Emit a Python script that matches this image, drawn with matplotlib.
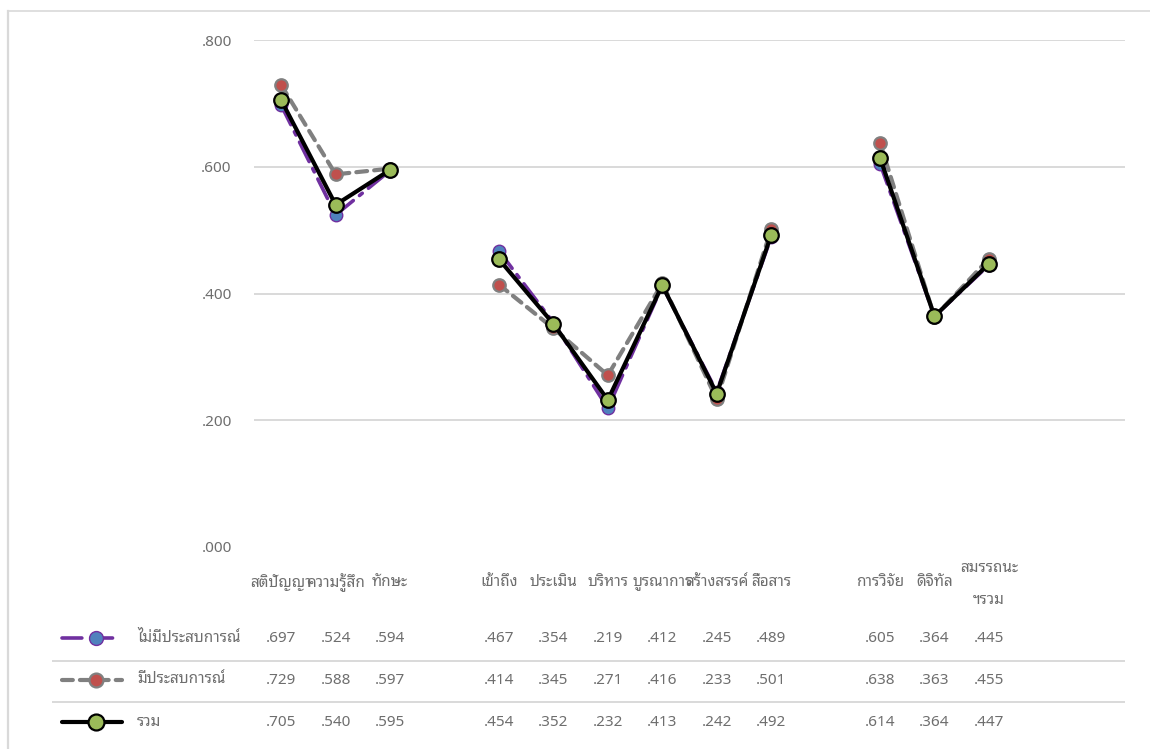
import numpy as np
import matplotlib
matplotlib.use("Agg")
import matplotlib.pyplot as plt
from matplotlib import transforms
from matplotlib.lines import Line2D
from matplotlib.ticker import FuncFormatter

plt.rcParams["font.family"] = ["Noto Sans Thai Looped", "DejaVu Sans"]

# ---- data -------------------------------------------------------------
categories = ["สติปัญญา", "ความรู้สึก", "ทักษะ", "",
              "เข้าถึง", "ประเมิน", "บริหาร", "บูรณาการ", "สร้างสรรค์", "สื่อสาร", "",
              "การวิจัย", "ดิจิทัล", "สมรรถนะ\nฯรวม", "", ""]

series_names = ["ไม่มีประสบการณ์", "มีประสบการณ์", "รวม"]

no_experience = [.697, .524, .594, None,
                 .467, .354, .219, .412, .245, .489, None,
                 .605, .364, .445, None, None]
experienced = [.729, .588, .597, None,
               .414, .345, .271, .416, .233, .501, None,
               .638, .363, .455, None, None]
overall = [.705, .540, .595, None,
           .454, .352, .232, .413, .242, .492, None,
           .614, .364, .447, None, None]

y_ticks = [0.0, 0.2, 0.4, 0.6, 0.8]

# ---- styles -----------------------------------------------------------
TEXT = "#6e6e6e"
GRID = "#d9d9d9"
FS = 11
styles = [
    dict(color="#7030A0", lw=2.6, dashes=(6, 2.2, 1, 2.2),
         mfc="#4F81BD", mec="#7030A0", ms=9, mew=1.0),
    dict(color="#808080", lw=3.0, dashes=(2.6, 1.7),
         mfc="#C0504D", mec="#808080", ms=9, mew=1.6),
    dict(color="#000000", lw=3.0, dashes=None,
         mfc="#9BBB59", mec="#000000", ms=10.5, mew=1.6),
]

W, H = 1150, 749
fig = plt.figure(figsize=(W / 100, H / 100), dpi=100)


def fx(px):
    return px / W


def fy(py):
    return 1 - py / H


ax = fig.add_axes([fx(254), fy(547), fx(1125) - fx(254), fy(40) - fy(547)])

x = np.arange(len(categories))
all_series = [no_experience, experienced, overall]
for vals, st in zip(all_series, styles):
    y = np.array([np.nan if v is None else v for v in vals], dtype=float)
    ln, = ax.plot(x, y, color=st["color"], lw=st["lw"], marker="o",
                  ms=st["ms"], mfc=st["mfc"], mec=st["mec"], mew=st["mew"],
                  solid_capstyle="round", dash_capstyle="round", zorder=3)
    if st["dashes"]:
        ln.set_dashes(st["dashes"])

ax.set_xlim(-0.5, len(categories) - 0.5)
ax.set_ylim(0, 0.8)
ax.set_yticks(y_ticks)
ax.yaxis.set_major_formatter(FuncFormatter(lambda v, _: f"{v:.3f}"[1:]))
ax.tick_params(axis="y", length=0, pad=16, labelsize=FS, labelcolor=TEXT)
ax.set_xticks([])
for s in ax.spines.values():
    s.set_visible(False)
for v in y_ticks[1:]:
    ax.axhline(v, color=GRID, lw=1.4, zorder=1)

# ---- data table -------------------------------------------------------
blend = transforms.blended_transform_factory(ax.transData, fig.transFigure)

for i, name in enumerate(categories):
    if not name:
        continue
    if "\n" in name:
        top, bottom = name.split("\n")
        ax.text(i, fy(568), top, transform=blend, ha="center", va="center",
                fontsize=FS, color=TEXT)
        ax.text(i, fy(600), bottom, transform=blend, ha="center", va="center",
                fontsize=FS, color=TEXT)
    else:
        ax.text(i, fy(583), name, transform=blend, ha="center", va="center",
                fontsize=FS, color=TEXT)

row_y = [638, 680, 722]
for vals, ry in zip(all_series, row_y):
    for i, v in enumerate(vals):
        if v is None:
            continue
        ax.text(i, fy(ry), f"{v:.3f}"[1:], transform=blend, ha="center",
                va="center", fontsize=FS, color=TEXT)

# row separators
for ly in (661, 702):
    fig.add_artist(Line2D([fx(53), fx(1124)], [fy(ly), fy(ly)], color=GRID, lw=1.4))

# legend keys and row names
for k, (name, st, ry) in enumerate(zip(series_names, styles, row_y)):
    key = Line2D([fx(62), fx(122)], [fy(ry), fy(ry)], color=st["color"], lw=st["lw"],
                 solid_capstyle="round", dash_capstyle="round")
    if st["dashes"]:
        key.set_dashes((5.5, 3) if k == 0 else st["dashes"])
    fig.add_artist(key)
    fig.add_artist(Line2D([fx(96)], [fy(ry)], marker="o", ls="none", ms=st["ms"] + 1,
                          mfc=st["mfc"], mec=st["mec"], mew=st["mew"]))
    fig.text(fx(137), fy(ry), name, ha="left", va="center", fontsize=FS, color=TEXT)

# chart frame
fig.add_artist(Line2D([fx(8), fx(8)], [fy(11), 0], color=GRID, lw=1.6))
fig.add_artist(Line2D([fx(8), 1], [fy(11), fy(11)], color=GRID, lw=1.2))

fig.savefig("out.png", dpi=100)
